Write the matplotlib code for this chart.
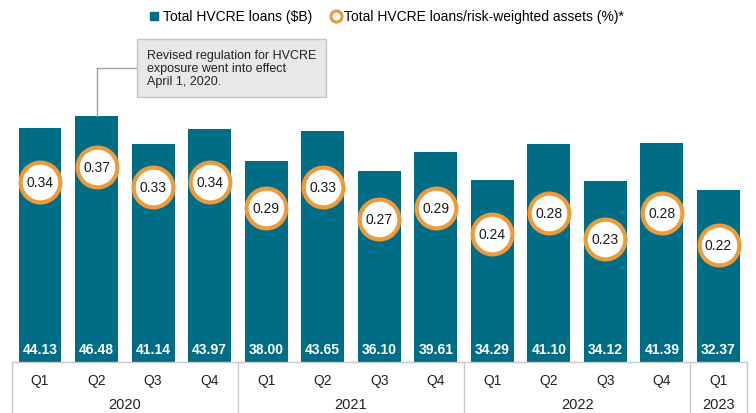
import matplotlib
matplotlib.use("Agg")
import matplotlib.pyplot as plt

plt.rcParams['font.family'] = ['Liberation Sans', 'DejaVu Sans']

quarters = ["Q1", "Q2", "Q3", "Q4", "Q1", "Q2", "Q3", "Q4",
            "Q1", "Q2", "Q3", "Q4", "Q1"]
years = ["2020", "2021", "2022", "2023"]
year_counts = [4, 4, 4, 1]
loans = [44.13, 46.48, 41.14, 43.97, 38.00, 43.65, 36.10, 39.61,
         34.29, 41.10, 34.12, 41.39, 32.37]
ratio = [0.34, 0.37, 0.33, 0.34, 0.29, 0.33, 0.27, 0.29,
         0.24, 0.28, 0.23, 0.28, 0.22]

teal = "#006d86"
orange = "#ec9a3a"
grid_gray = "#c9c9c9"

fig = plt.figure(figsize=(7.56, 4.14), dpi=100)
ax = fig.add_axes([0.0155, 0.1232, 0.9723, 0.640])
x = list(range(len(loans)))

ax.bar(x, loans, width=0.76, color=teal, zorder=2)
ax.set_xlim(-0.5, len(loans) - 0.5)
ax.set_ylim(0, 50)
for s in ax.spines.values():
    s.set_visible(False)
ax.set_xticks([])
ax.set_yticks([])

for xi, v in zip(x, loans):
    ax.text(xi, 0.049, f"{v:.2f}", transform=ax.get_xaxis_transform(),
            ha="center", va="center", color="white", fontsize=10,
            fontweight="bold")

# category table below the bars
tr = ax.get_xaxis_transform()
ax.plot([-0.5, len(loans) - 0.5], [0, 0], transform=tr, color=grid_gray,
        lw=1, clip_on=False)
for xi, q in zip(x, quarters):
    ax.text(xi, -0.068, q, transform=tr, ha="center", va="center",
            fontsize=10, color="#222222")
start = -0.5
ax.plot([start, start], [0, -0.2], transform=tr, color=grid_gray, lw=1,
        clip_on=False)
for yr, n in zip(years, year_counts):
    end = start + n
    ax.text((start + end) / 2, -0.158, yr, transform=tr, ha="center",
            va="center", fontsize=10.5, color="#222222")
    ax.plot([end, end], [0, -0.2], transform=tr, color=grid_gray, lw=1,
            clip_on=False)
    start = end

# ratio circles on a second scale
ax2 = ax.twinx()
ax2.set_ylim(-0.006, 0.504)
ax2.scatter(x, ratio, s=820, facecolor="white", edgecolor=orange,
            linewidth=3, zorder=3)
for xi, v in zip(x, ratio):
    ax2.text(xi, v, f"{v:.2f}", ha="center", va="center", fontsize=10,
             color="#1a1a1a", zorder=4)
for s in ax2.spines.values():
    s.set_visible(False)
ax2.set_yticks([])

# annotation
ax.annotate("Revised regulation for HVCRE\nexposure went into effect\nApril 1, 2020.",
            xy=(1, loans[1]), xycoords="data",
            xytext=(147, 345), textcoords="figure pixels",
            ha="left", va="center", fontsize=9, color="#222222",
            linespacing=1.1,
            bbox=dict(boxstyle="square,pad=0.8", facecolor="#e8e8e8",
                      edgecolor="#c4c4c4", lw=1),
            arrowprops=dict(arrowstyle="-", color="#a0a0a0", lw=1,
                            relpos=(0, 0.5), shrinkA=0, shrinkB=0,
                            connectionstyle="angle,angleA=180,angleB=90,rad=0"))

# legend
h1 = plt.Line2D([], [], marker="s", linestyle="none", color=teal,
                markersize=6)
h2 = plt.Line2D([], [], marker="o", linestyle="none", markerfacecolor="white",
                markeredgecolor=orange, markeredgewidth=2.2, markersize=8)
fig.legend([h1, h2], ["Total HVCRE loans ($B)",
                      "Total HVCRE loans/risk-weighted assets (%)*"],
           loc="center", bbox_to_anchor=(0.51, 0.958), ncol=2, frameon=False,
           fontsize=10, handletextpad=0.1, columnspacing=1.2,
           handlelength=1.0)

fig.savefig("out.png", dpi=100)
